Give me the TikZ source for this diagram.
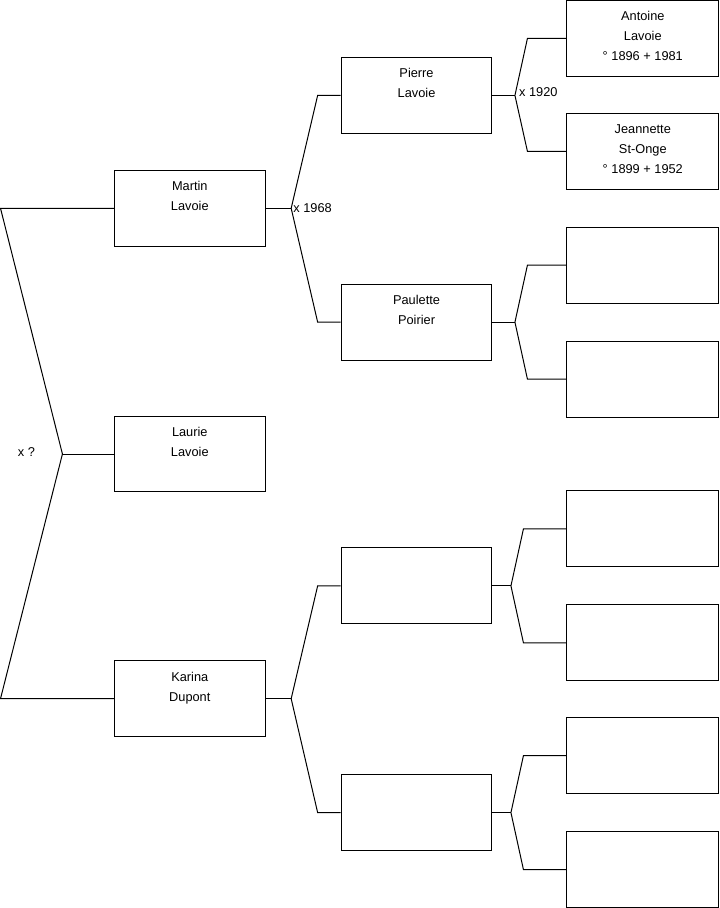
\documentclass[tikz,border=0pt]{standalone}
\usepackage{fontspec}
\setmainfont{Liberation Sans}
\usetikzlibrary{positioning}

\tikzset{
  person/.style={draw, line width=1pt, minimum width=151pt, minimum height=76pt, inner sep=0pt},
  who/.style={anchor=north, yshift=-11.5pt, inner sep=0pt, align=center, font=\fontsize{12.8}{20}\selectfont},
  link/.style={line width=1pt},
  wed/.style={anchor=west, inner sep=2pt, font=\fontsize{12.8}{14}\selectfont}
}

\begin{document}
\begin{tikzpicture}[x=1pt, y=-1pt]

  \useasboundingbox (-0.5,-0.5) rectangle (719.5,908.5);
  \coordinate (edge) at (0,0);

  % --- Generation 1 ---
  \node[person, label={[who]north:Martin\\Lavoie}] (martin) at (189.5,208) {};
  \node[person, label={[who]north:Laurie\\Lavoie}] (laurie) at (189.5,454) {};
  \node[person, label={[who]north:Karina\\Dupont}] (karina) at (189.5,699) {};

  % --- Generation 2 ---
  \node[person, label={[who]north:Pierre\\Lavoie}] (pierre) at (416.5,95) {};
  \node[person, label={[who]north:Paulette\\Poirier}] (paulette) at (416.5,322) {};
  \node[person] (dupontA) at (416.5,586) {};
  \node[person] (dupontB) at (416.5,813) {};

  % --- Generation 3 ---
  \node[person, minimum width=152pt, label={[who]north:Antoine\\Lavoie\\° 1896 + 1981}] (antoine) at (643,38) {};
  \node[person, minimum width=152pt, label={[who]north:Jeannette\\St-Onge\\° 1899 + 1952}] (jeannette) at (643,151) {};
  \node[person, minimum width=152pt] (poirierA) at (643,265) {};
  \node[person, minimum width=152pt] (poirierB) at (643,379) {};
  \node[person, minimum width=152pt] (dupontAA) at (643,529) {};
  \node[person, minimum width=152pt] (dupontAB) at (643,643) {};
  \node[person, minimum width=152pt] (dupontBA) at (643,756) {};
  \node[person, minimum width=152pt] (dupontBB) at (643,870) {};

  % Junctions of the forks
  \coordinate (jroot) at (62,454);
  \coordinate (j1968) at (291,208);
  \coordinate (jkarina) at (291,699);
  \coordinate (j1920) at (515,95);
  \coordinate (jpaulette) at (515,322);
  \coordinate (jdupontA) at (511,586);
  \coordinate (jdupontB) at (511,813);

  % Root fork (parents of Laurie)
  \draw[link] (laurie.west) -- (jroot);
  \draw[link] (jroot) -- (martin.west -| edge) -- (martin.west);
  \draw[link] (jroot) -- (karina.west -| edge) -- (karina.west);
  \node[font=\fontsize{12.8}{14}\selectfont, inner sep=0pt] (wedroot) at (26,452) {x ?};

  % Martin's parents
  \draw[link] (martin.east) -- (j1968);
  \draw[link] (j1968) -- ([xshift=-23pt]pierre.west) -- (pierre.west);
  \draw[link] (j1968) -- ([xshift=-23pt]paulette.west) -- (paulette.west);
  \node[wed] (wed1968) at (j1968) {x 1968};

  % Karina's parents
  \draw[link] (karina.east) -- (jkarina);
  \draw[link] (jkarina) -- ([xshift=-23pt]dupontA.west) -- (dupontA.west);
  \draw[link] (jkarina) -- ([xshift=-23pt]dupontB.west) -- (dupontB.west);

  % Pierre's parents
  \draw[link] (pierre.east) -- (j1920);
  \draw[link] (j1920) -- ([xshift=-39pt]antoine.west) -- (antoine.west);
  \draw[link] (j1920) -- ([xshift=-39pt]jeannette.west) -- (jeannette.west);
  \node[wed, xshift=2pt] (wed1920) at ([yshift=3pt]j1920) {x 1920};

  % Paulette's parents
  \draw[link] (paulette.east) -- (jpaulette);
  \draw[link] (jpaulette) -- ([xshift=-39pt]poirierA.west) -- (poirierA.west);
  \draw[link] (jpaulette) -- ([xshift=-39pt]poirierB.west) -- (poirierB.west);

  % Unknown branches
  \draw[link] (dupontA.east) -- (jdupontA);
  \draw[link] (jdupontA) -- ([xshift=-43pt]dupontAA.west) -- (dupontAA.west);
  \draw[link] (jdupontA) -- ([xshift=-43pt]dupontAB.west) -- (dupontAB.west);
  \draw[link] (dupontB.east) -- (jdupontB);
  \draw[link] (jdupontB) -- ([xshift=-43pt]dupontBA.west) -- (dupontBA.west);
  \draw[link] (jdupontB) -- ([xshift=-43pt]dupontBB.west) -- (dupontBB.west);

\end{tikzpicture}
\end{document}
